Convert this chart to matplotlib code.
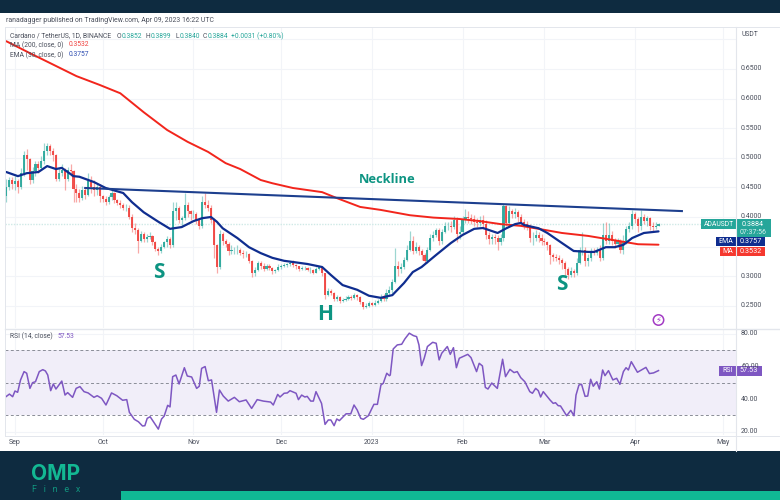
import matplotlib
matplotlib.use("Agg")
import matplotlib.pyplot as plt
from matplotlib.patches import Rectangle, Circle

plt.rcParams['font.family'] = ['Roboto', 'DejaVu Sans']

# ---------- data (days counted from 1 Sep 2022) ----------
first_open = 0.435
aug_close = [.450,.462,.455]
aug_high = [.465,.468,.468]
aug_low = [.425,.445,.448]
sep_close = [.460,.450,.475,.505,.498,.462,.478,.490,.482,.495,.512,.520,.512,.505,.465,.475,.480,.465,.480,.478,.447,.440,.432,.445,.437,.460,.450,.445,.450,.435]
sep_high = [.470,.465,.483,.512,.515,.500,.485,.495,.495,.503,.525,.525,.523,.517,.507,.482,.490,.482,.485,.490,.480,.455,.448,.452,.450,.475,.470,.462,.458,.455]
sep_low = [.445,.440,.447,.470,.480,.455,.458,.470,.475,.480,.490,.505,.505,.495,.460,.460,.470,.445,.460,.470,.425,.425,.425,.428,.430,.435,.440,.435,.438,.425]
oct_close = [.430,.425,.433,.440,.428,.424,.420,.416,.416,.400,.382,.378,.360,.372,.362,.367,.368,.357,.346,.342,.350,.357,.362,.352,.410,.415,.395,.398,.420,.410,.405]
oct_high = [.438,.436,.438,.445,.442,.430,.428,.424,.422,.420,.405,.390,.382,.376,.375,.372,.374,.370,.360,.350,.355,.360,.368,.366,.425,.425,.418,.402,.440,.425,.412]
oct_low = [.425,.420,.422,.428,.424,.420,.416,.412,.410,.396,.375,.372,.340,.358,.358,.358,.362,.353,.342,.335,.340,.348,.350,.348,.350,.395,.390,.385,.395,.400,.395]
nov_close = [.405,.395,.385,.425,.420,.415,.395,.352,.316,.372,.36,.355,.342,.345,.345,.345,.34,.337,.337,.325,.305,.31,.322,.318,.312,.318,.314,.308,.310,.316]
nov_high = [.412,.408,.398,.435,.440,.428,.420,.398,.355,.378,.375,.362,.358,.352,.350,.352,.348,.345,.342,.340,.328,.316,.325,.326,.322,.320,.320,.316,.313,.320]
nov_low = [.398,.388,.380,.382,.415,.410,.390,.330,.305,.312,.352,.350,.335,.338,.338,.338,.335,.330,.332,.322,.298,.300,.308,.312,.308,.310,.310,.303,.305,.308]
dec_close = [.317,.319,.320,.322,.319,.317,.313,.314,.314,.311,.311,.306,.312,.315,.305,.268,.275,.272,.262,.265,.258,.260,.262,.265,.264,.268,.265,.256,.248,.250,.255]
dec_high = [.321,.323,.323,.325,.328,.321,.318,.318,.318,.316,.315,.312,.316,.318,.316,.305,.280,.279,.274,.268,.267,.264,.266,.268,.268,.271,.270,.266,.257,.254,.258]
dec_low = [.312,.315,.316,.318,.316,.312,.309,.310,.310,.308,.305,.303,.305,.310,.300,.262,.266,.268,.258,.258,.254,.256,.258,.260,.260,.262,.260,.253,.244,.246,.248]
jan_close = [.252,.255,.258,.265,.262,.272,.276,.290,.318,.312,.315,.328,.345,.360,.343,.350,.342,.335,.325,.345,.365,.370,.378,.360,.375,.385,.385,.383,.395,.372,.375]
jan_high = [.257,.259,.262,.270,.270,.278,.283,.295,.348,.325,.322,.332,.352,.377,.368,.358,.352,.346,.340,.350,.372,.376,.382,.382,.380,.392,.392,.393,.402,.400,.385]
jan_low = [.249,.250,.253,.256,.258,.258,.268,.272,.288,.300,.305,.312,.326,.342,.338,.340,.335,.328,.320,.322,.343,.360,.366,.352,.355,.373,.378,.375,.380,.358,.362]
feb_close = [.395,.400,.398,.397,.392,.390,.395,.388,.370,.362,.366,.364,.357,.365,.418,.390,.410,.405,.408,.400,.392,.388,.385,.365,.365,.370,.365,.360]
feb_high = [.402,.413,.410,.405,.403,.398,.402,.403,.395,.375,.372,.372,.370,.372,.422,.420,.418,.413,.415,.412,.405,.396,.394,.388,.375,.378,.375,.372]
feb_low = [.372,.390,.390,.388,.385,.383,.385,.380,.362,.355,.355,.355,.345,.352,.360,.385,.385,.398,.398,.392,.385,.380,.378,.358,.352,.360,.358,.352]
mar_close = [.358,.352,.335,.333,.33,.328,.322,.312,.302,.308,.305,.322,.345,.345,.325,.33,.342,.34,.345,.33,.37,.36,.37,.36,.355,.36,.345,.36,.38,.385,.405]
mar_high = [.365,.360,.355,.340,.338,.336,.330,.325,.316,.315,.312,.330,.350,.375,.350,.338,.348,.348,.350,.352,.390,.392,.390,.376,.365,.365,.362,.370,.385,.392,.412]
mar_low = [.352,.345,.320,.325,.325,.320,.312,.300,.295,.298,.298,.302,.320,.335,.318,.318,.326,.335,.335,.325,.328,.355,.355,.352,.348,.350,.340,.338,.355,.375,.380]
apr_close = [.397,.385,.40,.393,.398,.385,.383,.385,.3884]
apr_high = [.408,.400,.412,.405,.402,.400,.392,.392,.3899]
apr_low = [.390,.375,.378,.388,.385,.378,.375,.380,.3840]

ma_day = [-3,5,12,21,29,36,44,52,59,66,72,77,84,88,95,105,110,118,125,135,143,152,159,166,173,179,187,196,207,213,220]
ma_val = [.697,.677,.660,.638,.623,.609,.577,.547,.527,.510,.491,.481,.4625,.457,.449,.442,.432,.417,.412,.403,.399,.3966,.393,.388,.385,.380,.373,.368,.359,.354,.3532]
ema_day = [-3,1,4,8,11,14,16,20,22,27,31,37,40,44,49,53,57,61,64,67,69,71,76,80,84,88,92,95,100,105,108,112,117,121,125,129,133,136,139,144,149,153,157,160,165,168,171,173,174,179,182,187,191,196,198,202,205,208,211,215,220]
ema_val = [.476,.469,.474,.476,.486,.481,.483,.469,.468,.459,.449,.4405,.425,.408,.392,.380,.383,.393,.398,.400,.392,.381,.3645,.349,.339,.331,.326,.324,.3206,.3155,.302,.285,.277,.267,.2635,.268,.2885,.307,.3155,.336,.356,.3696,.380,.3814,.373,.381,.388,.390,.3865,.381,.373,.356,.3426,.341,.341,.349,.349,.353,.3645,.373,.3757]
neck_day = [24,228]
neck_val = [.449,.410]

rsi_day = [-3.1,-1.9,-.8,0,.9,1.9,3.1,4,5.1,6,7,8.3,9.5,10.4,11.2,12.2,13.1,14,16,17.1,18,19.7,20.9,22.2,23.6,25,27,28.1,29.6,31.1,33,34.8,36.8,38.2,39.1,40.8,42.2,43.6,44.4,45.2,46.2,49,50.1,51,52.2,53,53.9,55,56.1,57.9,58.9,60.4,62.1,63,63.8,65,66.1,67.2,68.9,69.9,71.2,72.9,75,76.7,79,80.9,82.8,84.9,87.4,88.3,89.8,90.6,92,93.1,94,96.1,96.9,98,99.1,99.9,101.1,102,102.9,104.8,106,107.1,108,109.1,110,110.9,113.2,114.8,115.9,117,118.2,119.1,120.8,122.7,123.9,125.1,125.9,127.1,128,
           128.3,129.3,130.7,132.2,133.3,134.8,136.2,137.3,138.1,139,139.9,141,142.8,144,145,145.9,147.8,148.8,149.9,150.9,151.9,153.1,154.8,155.9,157.8,158.7,159.8,160.8,161.7,163,164.9,166.7,167.7,169.2,170.6,171.7,172.9,174.3,176,176.9,178,178.9,179.7,180.6,182.9,184,184.8,185.7,186.5,188.6,190,191.1,191.8,192.8,193.7,194.9,195.8,196.8,197.7,198.9,199.8,200.9,201.7,202.9,204.4,205.7,206.8,208,208.9,209.7,210.7,212.8,215.7,216.9,218.3,220]
rsi_val = [41.5,43.1,41.5,45,44.2,51.8,56.9,55.9,46.6,50.1,50.7,56.9,58.1,57.3,54.8,45.2,49.3,46.2,51.1,42.5,44,41.1,46.6,47.7,44.6,43.8,41.1,42.1,40.5,36.4,43.8,42.1,39.3,39.7,31.9,27.6,26.1,23.5,23.7,28.2,29.2,21.6,27.8,29.6,36.2,35.2,53.8,54.8,49.3,59.3,54.2,53.6,46.6,47.9,58.9,60,51.3,51.8,31.9,45.6,41.9,38.8,41.1,38.4,39.5,34.3,39.7,38.8,38.2,36.4,42.9,41.3,43.6,43.8,45.2,43.6,39.7,42.5,41.3,41.7,38.8,38.8,44.6,37.4,24.5,27.2,27.2,23.7,27.8,26.8,31,31,36.4,33.3,28.2,27.6,29.8,36.8,36.8,48.7,49.7,55.9,54.4,
           54.8,70.8,73.3,73.7,77,80.5,79,78.4,73.3,60.6,65.1,72.3,74.9,74.3,64.1,68.2,72.3,67.5,71.6,59.3,65.1,66.1,67.5,65.5,56.9,62,60.4,47.2,46.2,49.9,46.6,64.5,53.8,58.3,56.3,56.9,53.2,50.7,44.6,43.6,46.6,45.2,41.3,44.6,39.5,37.4,37.8,36,35.8,29.8,33.1,29.8,42.5,48.7,49.1,41.7,41.9,52.2,47.9,50.7,46.2,57.9,54.4,57.5,51.8,52.8,49.1,56.9,59.3,57.9,63,56.5,59.5,55.7,56.1,57.53]

price_ticks = [.65,.60,.55,.50,.45,.40,.30,.25]
price_grid = [.70,.65,.60,.55,.50,.45,.40,.35,.30,.25]
rsi_ticks = [80,60,40,20]
month_days = [0,30,61,91,122,153,181,212,242]
month_labels = ['Sep','Oct','Nov','Dec','2023','Feb','Mar','Apr','May']
last_price = 0.3884

closes = aug_close+sep_close+oct_close+nov_close+dec_close+jan_close+feb_close+mar_close+apr_close
highs = aug_high+sep_high+oct_high+nov_high+dec_high+jan_high+feb_high+mar_high+apr_high
lows = aug_low+sep_low+oct_low+nov_low+dec_low+jan_low+feb_low+mar_low+apr_low
opens = [first_open]+closes[:-1]
days = list(range(-3, len(closes)-3))

# ---------- layout ----------
W, H = 780, 500
L, R, T1, B1, T2, B2 = 5, 736, 27, 328, 330, 435
GREEN, RED, NAVY = '#26a69a', '#f0403c', '#0f2d8f'
GRID = '#f2f4f8'
TEAL = '#0d9482'
PURPLE = '#7e57c2'
TXT = '#4a4f5c'
xlim = ((L-15)/2.925, (R-15)/2.925)

fig = plt.figure(figsize=(W/100, H/100), dpi=100, facecolor='white')
def axes_px(l, t, r, b):
    return fig.add_axes([l/W, 1-b/H, (r-l)/W, (b-t)/H])

ax = axes_px(L, T1, R, B1)
ax.set_xlim(*xlim)
ax.set_ylim(.40-(B1-217)/592, .40+(217-T1)/592)
ax2 = axes_px(L, T2, R, B2)
ax2.set_xlim(*xlim)
ax2.set_ylim(20-(B2-431.7)/1.63, 80+(334-T2)/1.63)

for a in (ax, ax2):
    a.set_xticks([]); a.set_yticks([])
    for s in a.spines.values():
        s.set_visible(False)
    for d in month_days:
        a.axvline(d, color=GRID, lw=0.8, zorder=0)
for p in price_grid:
    ax.axhline(p, color=GRID, lw=0.8, zorder=0)
for r in rsi_ticks:
    ax2.axhline(r, color=GRID, lw=0.8, zorder=0)

# candles
for d, o, h, l, c in zip(days, opens, highs, lows, closes):
    col = GREEN if c >= o else RED
    ax.vlines(d, l, h, color=col, lw=0.9, alpha=0.45, zorder=2)
    ax.bar(d, abs(c-o), bottom=min(o, c), width=0.72, color=col, lw=0, alpha=0.9, zorder=3)

ax.axhline(last_price, color='#cfe9e6', lw=1.0, ls=(0, (1, 1)), zorder=1)
ax.plot(ma_day, ma_val, color='#f2251c', lw=1.4, zorder=4, solid_capstyle='round')
ax.plot(ema_day, ema_val, color=NAVY, lw=1.6, zorder=5, solid_capstyle='round')
ax.plot(neck_day, neck_val, color='#1d3f8e', lw=1.5, zorder=5)

# RSI
ax2.axhspan(30, 70, color='#f1eef9', lw=0, zorder=0.5)
for r in (70, 50, 30):
    ax2.axhline(r, color='#8a8d97', lw=0.7, ls=(0, (3, 2.5)), zorder=1)
ax2.plot(rsi_day, rsi_val, color=PURPLE, lw=1.1, zorder=3)

# ---------- chrome drawn in pixel coordinates ----------
ov = fig.add_axes([0, 0, 1, 1], facecolor='none')
ov.set_xlim(0, W); ov.set_ylim(H, 0); ov.axis('off')

def rect(x0, y0, x1, y1, c, **k):
    ov.add_patch(Rectangle((x0, y0), x1-x0, y1-y0, facecolor=c, edgecolor='none', **k))
def txt(x, y, s, c=TXT, size=5.0, ha='left', **k):
    ov.text(x, y, s, color=c, fontsize=size, ha=ha, va='center', **k)

rect(0, 0, W, 13, '#0e2b40')
rect(0, 451, W, H, '#0e2b40')
rect(121, 491, W, H, '#10b894')
txt(31, 474.5, 'OMP', c='#13b893', size=15, fontweight='bold', family='Inter')
txt(32, 490, 'F   i   n   e   x', c='#11957f', size=6.5)

line = '#e3e6ec'
ov.plot([L, W-1], [T1, T1], color=line, lw=0.7)
ov.plot([L, L], [T1, B2+1], color=line, lw=0.7)
ov.plot([L, W-1], [B1+1, B1+1], color=line, lw=1.0)
ov.plot([L, W-1], [B2+1, B2+1], color=line, lw=0.7)
ov.plot([R, R], [T1, 451], color=line, lw=0.8)

txt(6, 20, 'ranadagger published on TradingView.com, Apr 09, 2023 16:22 UTC', size=4.95)
txt(10, 36, 'Cardano / TetherUS, 1D, BINANCE', size=4.85)
for x, lab, val in ((117, 'O', '0.3852'), (146, 'H', '0.3899'), (175, 'L', '0.3840'), (203, 'C', '0.3884')):
    txt(x, 36, lab, size=4.85)
    txt(x+4.2, 36, val, c=GREEN, size=4.85)
txt(231, 36, '+0.0031 (+0.80%)', c=GREEN, size=4.85)
txt(10, 45, 'MA (200, close, 0)', size=4.85)
txt(69, 45, '0.3532', c='#f0403c', size=4.85)
txt(10, 55, 'EMA (30, close, 0)', size=4.85)
txt(69, 55, '0.3757', c='#2b4bb0', size=4.85)
txt(10, 336, 'RSI (14, close)', size=4.85)
txt(58, 336, '57.53', c=PURPLE, size=4.85)

# price axis
txt(741, 34, 'USDT', size=4.9)
for p in price_ticks:
    y = 217+(.40-p)*592
    txt(741, y, f'{p:.4f}', size=5.0)
for r in rsi_ticks:
    y = 431.7-(r-20)*1.63
    txt(741, y, f'{r:.2f}', size=5.0)
for d, s in zip(month_days, month_labels):
    txt(15+d*2.925, 442, s, ha='center', size=5.0)

# last-value labels
rect(701, 219, 736, 229, GREEN)
rect(736.5, 219, 771, 237, GREEN)
txt(718.5, 224, 'ADAUSDT', c='white', size=4.9, ha='center')
txt(753, 224, '0.3884', c='white', size=5.2, ha='center')
txt(753, 232, '07:37:56', c='#d9f0ee', size=5.0, ha='center')
rect(716, 237, 736, 246, NAVY)
rect(736.5, 237, 765, 246, NAVY)
txt(726, 241.5, 'EMA', c='white', size=5.0, ha='center')
txt(750.5, 241.5, '0.3757', c='white', size=5.2, ha='center')
rect(720, 247, 736, 256, '#f5382f')
rect(736.5, 247, 765, 256, '#f5382f')
txt(728, 251.5, 'MA', c='white', size=5.0, ha='center')
txt(750.5, 251.5, '0.3532', c='white', size=5.2, ha='center')
rect(719, 366, 736, 376, PURPLE)
rect(736.5, 366, 762, 376, PURPLE)
txt(727.5, 371, 'RSI', c='white', size=5.0, ha='center')
txt(749, 371, '57.53', c='white', size=5.2, ha='center')

# annotations
txt(387, 179.5, 'Neckline', c=TEAL, size=9.3, ha='center', fontweight='bold', family='Open Sans')
txt(159, 273, 'S', c=TEAL, size=15, ha='center', fontweight='bold', family='Open Sans')
txt(325, 315, 'H', c=TEAL, size=15, ha='center', fontweight='bold', family='Open Sans')
txt(562, 284, 'S', c=TEAL, size=15, ha='center', fontweight='bold', family='Open Sans')

ov.add_patch(Circle((658.5, 320), 5.2, facecolor='white', edgecolor='#a23bc4', lw=1.1))
ov.text(658.5, 320, '\u26a1', color='#a23bc4', fontsize=6, ha='center', va='center', family='DejaVu Sans')

fig.savefig('out.png', dpi=100, facecolor='white')
